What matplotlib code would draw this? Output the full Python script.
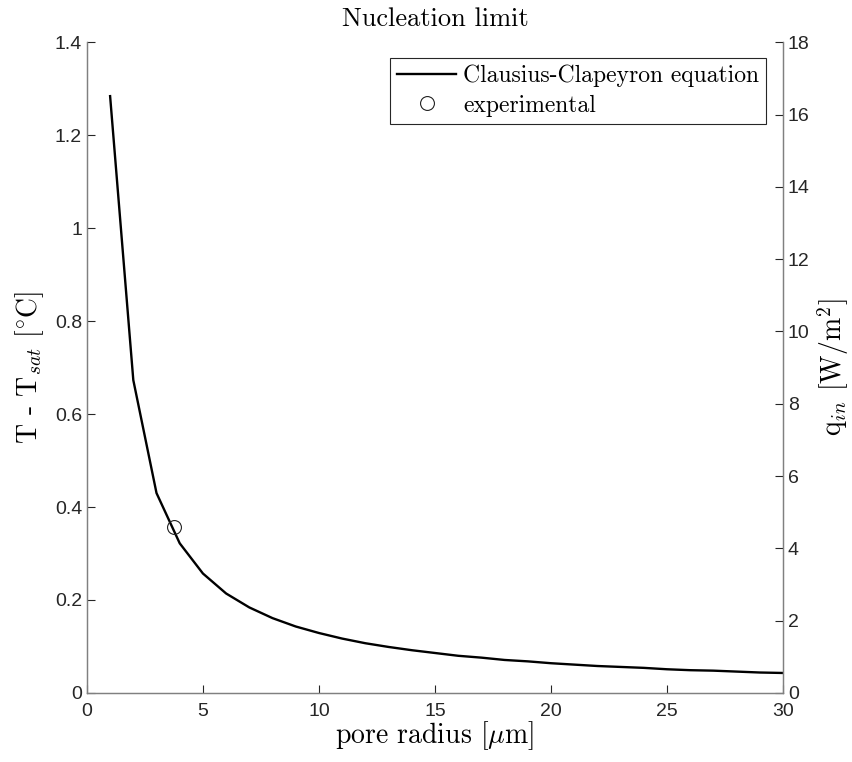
import numpy as np
import matplotlib
matplotlib.use("Agg")
import matplotlib.pyplot as plt
from matplotlib.ticker import FuncFormatter

plt.rcParams['mathtext.fontset'] = 'cm'
plt.rcParams['font.family'] = ['Liberation Sans', 'DejaVu Sans']
plt.rcParams['axes.unicode_minus'] = False

# pore radius [um] and superheat T - Tsat [C]
radius = [1, 2, 3, 4, 5, 6, 7, 8, 9, 10, 11, 12, 13, 14, 15,
          16, 17, 18, 19, 20, 21, 22, 23, 24, 25, 26, 27, 28, 29, 30]
superheat = [1.284, 0.673, 0.430, 0.322, 0.257, 0.214, 0.184, 0.161, 0.143, 0.129,
             0.117, 0.107, 0.099, 0.092, 0.086, 0.080, 0.076, 0.071, 0.068, 0.064,
             0.061, 0.058, 0.056, 0.054, 0.051, 0.049, 0.048, 0.046, 0.044, 0.043]

# experimental point
exp_radius = [3.75]
exp_superheat = [0.357]

serif = 'cmr10'
grey = '#262626'
spine = '#808080'

fig = plt.figure(figsize=(8.52, 7.62), dpi=100)
ax = fig.add_axes([0.102, 0.0906, 0.817, 0.854])

line, = ax.plot(radius, superheat, color='black', lw=1.7)
pt, = ax.plot(exp_radius, exp_superheat, 'o', mfc='none', mec='#222222',
              ms=10, mew=0.8)

ax.set_xlim(0, 30)
ax.set_ylim(0, 1.4)
ax.set_xticks(np.arange(0, 31, 5))
ax.set_yticks(np.arange(0, 1.41, 0.2))
ax.yaxis.set_major_formatter(FuncFormatter(lambda v, p: '%g' % round(v, 2)))

ax2 = ax.twinx()
ax2.set_ylim(0, 18)
ax2.set_yticks(np.arange(0, 19, 2))

for a in (ax, ax2):
    a.tick_params(direction='in', length=6, width=0.8, color=grey,
                  labelsize=14, labelcolor=grey)
    for s in a.spines.values():
        s.set_color(spine)
        s.set_linewidth(0.9)
    a.spines['top'].set_visible(False)
ax.tick_params(axis='x', pad=7)

ax.set_xlabel(r'pore radius [$\mu$m]', family=serif, fontsize=20, labelpad=0)
ax.set_ylabel(r'T - T$_{sat}$ [$^{\circ}$C]', family=serif, fontsize=20, labelpad=6)
ax2.set_ylabel(r'q$_{in}$ [W/m$^2$]', family=serif, fontsize=20, labelpad=4)
ax.set_title('Nucleation limit', family=serif, fontsize=19, pad=12)

leg = ax.legend([line, pt], ['Clausius-Clapeyron equation', 'experimental'],
                loc='upper right', bbox_to_anchor=(0.976, 0.976),
                prop={'family': serif, 'size': 17}, fancybox=False,
                framealpha=1, edgecolor='#262626', handlelength=2.5,
                borderaxespad=0, borderpad=0.3, labelspacing=0.3,
                handletextpad=0.3)
leg.get_frame().set_linewidth(0.8)

fig.savefig('out.png', dpi=100)
